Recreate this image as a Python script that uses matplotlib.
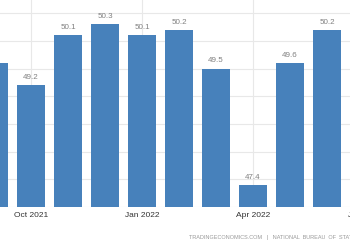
import matplotlib
matplotlib.use("Agg")
import matplotlib.pyplot as plt

# China manufacturing PMI, Sep 2021 - Jun 2022
months = ["Sep 2021", "Oct 2021", "Nov 2021", "Dec 2021", "Jan 2022", "Feb 2022",
          "Mar 2022", "Apr 2022", "May 2022", "Jun 2022"]
pmi = [49.6, 49.2, 50.1, 50.3, 50.1, 50.2, 49.5, 47.4, 49.6, 50.2]

tick_pos = [1, 4, 7, 10]
tick_labels = ["Oct 2021", "Jan 2022", "Apr 2022", "Jul 2022"]

bar_color = "#4781bb"

plt.rcParams['font.family'] = ['Liberation Sans', 'DejaVu Sans']

fig = plt.figure(figsize=(3.5, 2.5), dpi=100)
# axes runs past the right edge, the original is a crop
ax = fig.add_axes([0, 0.172, 406 / 350, 0.828])

x = list(range(len(pmi)))
ax.bar(x, pmi, width=0.73, color=bar_color, zorder=2)

for i, v in zip(x, pmi):
    ax.annotate("%.1f" % v, (i, v), xytext=(0, 3), textcoords="offset points",
                ha="center", va="bottom", fontsize=5.8, color="#808080")

ax.set_xlim(6 / 37, 6 / 37 + 406 / 37)
ax.set_ylim(47, 50.74)
ax.set_yticks([47, 47.5, 48, 48.5, 49, 49.5, 50, 50.5])
ax.set_xticks(tick_pos)
ax.set_xticklabels(tick_labels)
ax.tick_params(axis="x", length=0, pad=3.5, labelsize=6, labelcolor="#333333")
ax.tick_params(axis="y", length=0, labelleft=False)
ax.grid(True, color="#e8e8e8", linewidth=0.8, zorder=0)
ax.set_axisbelow(True)
for s in ax.spines.values():
    s.set_visible(False)

fig.text(189 / 350, 1 - 238 / 250,
         "TRADINGECONOMICS.COM   |   NATIONAL  BUREAU  OF  STATISTICS  OF  CHINA",
         fontsize=4, color="#999999", ha="left", va="center")

fig.savefig("out.png", dpi=100)
